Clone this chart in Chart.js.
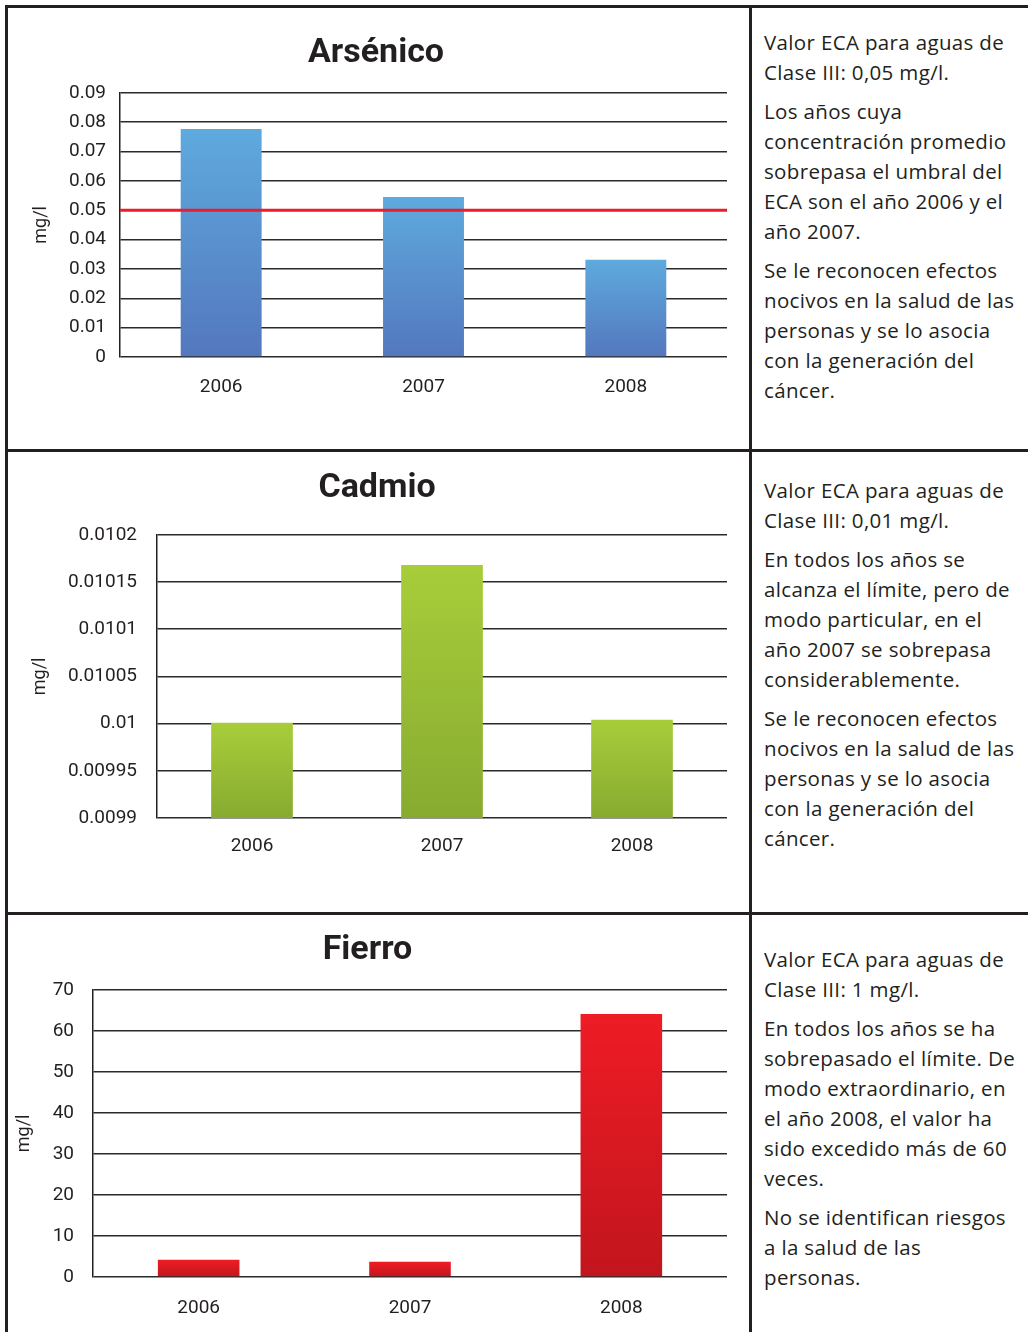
<!DOCTYPE html>
<html>
<head>
<meta charset="utf-8">
<script src="https://cdn.jsdelivr.net/npm/chart.js@4.4.1/dist/chart.umd.min.js"></script>
<style>
  body { margin: 0; background: #fff; }
  #page { position: relative; width: 1028px; height: 1332px; overflow: hidden; color: #231f20; font-family: 'Open Sans', sans-serif; }
  .chartBox { position: absolute; left: 8px; width: 742px; }
  .rule { position: absolute; background: #231f20; z-index: 2; }
  .note { position: absolute; left: 764px; width: 264px; font-size: 20.5px; letter-spacing: 0.35px; line-height: 30px; }
  .note p { margin: 0 0 9px 0; white-space: nowrap; }
</style>
</head>
<body>
<div id="page">
  <div class="chartBox" style="top:8px;height:441px"><canvas id="arsenico"></canvas></div>
  <div class="chartBox" style="top:451px;height:461px"><canvas id="cadmio"></canvas></div>
  <div class="chartBox" style="top:914px;height:418px"><canvas id="fierro"></canvas></div>

  <div class="rule" style="left:5px;top:5px;width:1023px;height:3px"></div>
  <div class="rule" style="left:5px;top:5px;width:3px;height:1327px"></div>
  <div class="rule" style="left:749px;top:5px;width:3px;height:1327px"></div>
  <div class="rule" style="left:5px;top:449px;width:1023px;height:3px"></div>
  <div class="rule" style="left:5px;top:912px;width:1023px;height:3px"></div>

  <div class="note" style="top:27px">
    <p>Valor ECA para aguas de<br>Clase III: 0,05 mg/l.</p>
    <p>Los años cuya<br>concentración promedio<br>sobrepasa el umbral del<br>ECA son el año 2006 y el<br>año 2007.</p>
    <p>Se le reconocen efectos<br>nocivos en la salud de las<br>personas y se lo asocia<br>con la generación del<br>cáncer.</p>
  </div>
  <div class="note" style="top:475px">
    <p>Valor ECA para aguas de<br>Clase III: 0,01 mg/l.</p>
    <p>En todos los años se<br>alcanza el límite, pero de<br>modo particular, en el<br>año 2007 se sobrepasa<br>considerablemente.</p>
    <p>Se le reconocen efectos<br>nocivos en la salud de las<br>personas y se lo asocia<br>con la generación del<br>cáncer.</p>
  </div>
  <div class="note" style="top:944px">
    <p>Valor ECA para aguas de<br>Clase III: 1 mg/l.</p>
    <p>En todos los años se ha<br>sobrepasado el límite. De<br>modo extraordinario, en<br>el año 2008, el valor ha<br>sido excedido más de 60<br>veces.</p>
    <p>No se identifican riesgos<br>a la salud de las<br>personas.</p>
  </div>
</div>

<script>
// years on the x axis (same for the three charts)
const years = ['2006', '2007', '2008'];

// Arsénico, mg/l
const arsenicoValues = [0.0777, 0.0545, 0.0331];
const arsenicoTicks = [0, 0.01, 0.02, 0.03, 0.04, 0.05, 0.06, 0.07, 0.08, 0.09];
const arsenicoEca = 0.05;

// Cadmio, mg/l
const cadmioValues = [0.010001, 0.010168, 0.010004];
const cadmioTicks = [0.0099, 0.00995, 0.01, 0.01005, 0.0101, 0.01015, 0.0102];

// Fierro, mg/l
const fierroValues = [4.2, 3.7, 64.1];
const fierroTicks = [0, 10, 20, 30, 40, 50, 60, 70];

const textColor = '#231f20';
const chartFont = 'Roboto, sans-serif';

// each bar gets its own top->bottom gradient
function barGradient(top, bottom) {
  return (c) => {
    const chart = c.chart;
    if (!chart.chartArea || c.type !== 'data') return bottom;
    const yTop = chart.scales.y.getPixelForValue(c.raw);
    const g = chart.ctx.createLinearGradient(0, yTop, 0, chart.chartArea.bottom);
    g.addColorStop(0, top);
    g.addColorStop(1, bottom);
    return g;
  };
}

// horizontal ECA limit line
const ecaLine = {
  id: 'ecaLine',
  afterDatasetsDraw(chart, args, opts) {
    if (opts.value == null) return;
    const { ctx, chartArea, scales } = chart;
    const y = scales.y.getPixelForValue(opts.value);
    ctx.save();
    ctx.strokeStyle = opts.color;
    ctx.lineWidth = 3;
    ctx.beginPath();
    ctx.moveTo(chartArea.left, y);
    ctx.lineTo(chartArea.right, y);
    ctx.stroke();
    ctx.restore();
  }
};

function makeChart(id, cfg) {
  return new Chart(document.getElementById(id), {
    type: 'bar',
    data: {
      labels: years,
      datasets: [{
        data: cfg.values,
        backgroundColor: barGradient(cfg.colors[0], cfg.colors[1]),
        barPercentage: cfg.barPct,
        categoryPercentage: 1
      }]
    },
    plugins: [ecaLine],
    options: {
      responsive: true,
      maintainAspectRatio: false,
      animation: false,
      layout: { padding: { left: cfg.padLeft, right: 23, top: 0, bottom: 0 } },
      plugins: {
        legend: { display: false },
        tooltip: { enabled: false },
        title: {
          display: true,
          text: cfg.title,
          color: textColor,
          font: { family: chartFont, size: 34, weight: 'bold' },
          padding: cfg.titlePad
        },
        ecaLine: { value: cfg.eca, color: '#ec1c2a' }
      },
      scales: {
        x: {
          afterFit: s => { s.height = cfg.xHeight; },
          grid: { display: false, drawTicks: false },
          border: { display: false },
          ticks: { color: textColor, padding: cfg.xPad, font: { family: chartFont, size: 19 } }
        },
        y: {
          min: cfg.ticks[0],
          max: cfg.ticks[cfg.ticks.length - 1],
          afterBuildTicks: s => { s.ticks = cfg.ticks.map(v => ({ value: v })); },
          afterFit: s => { s.width = cfg.yWidth; },
          grid: { color: '#2a2a2a', lineWidth: 1.5, drawTicks: false },
          border: { display: true, color: textColor, width: 1.5 },
          ticks: {
            color: textColor,
            padding: cfg.yPad,
            font: { family: chartFont, size: 19 },
            callback: v => String(Number(v.toFixed(6)))
          },
          title: {
            display: true,
            text: 'mg/l',
            color: textColor,
            font: { family: chartFont, size: 18 },
            padding: { top: cfg.yTitlePad, bottom: 0 }
          }
        }
      }
    }
  });
}

makeChart('arsenico', {
  title: 'Arsénico', values: arsenicoValues, ticks: arsenicoTicks, eca: arsenicoEca,
  colors: ['#5eaade', '#5477be'], barPct: 0.40,
  padLeft: 17, yWidth: 95, yPad: 14, yTitlePad: 6,
  titlePad: { top: 25, bottom: 19 }, xHeight: 92, xPad: 19
});

makeChart('cadmio', {
  title: 'Cadmio', values: cadmioValues, ticks: cadmioTicks, eca: null,
  colors: ['#a8cd3a', '#87ab30'], barPct: 0.43,
  padLeft: 19, yWidth: 130, yPad: 20, yTitlePad: 3,
  titlePad: { top: 17, bottom: 26 }, xHeight: 94, xPad: 17
});

makeChart('fierro', {
  title: 'Fierro', values: fierroValues, ticks: fierroTicks, eca: null,
  colors: ['#ee1c25', '#c2151d'], barPct: 0.386,
  padLeft: 0, yWidth: 85, yPad: 19, yTitlePad: 6,
  titlePad: { top: 16, bottom: 19 }, xHeight: 55, xPad: 20
});
</script>
</body>
</html>
